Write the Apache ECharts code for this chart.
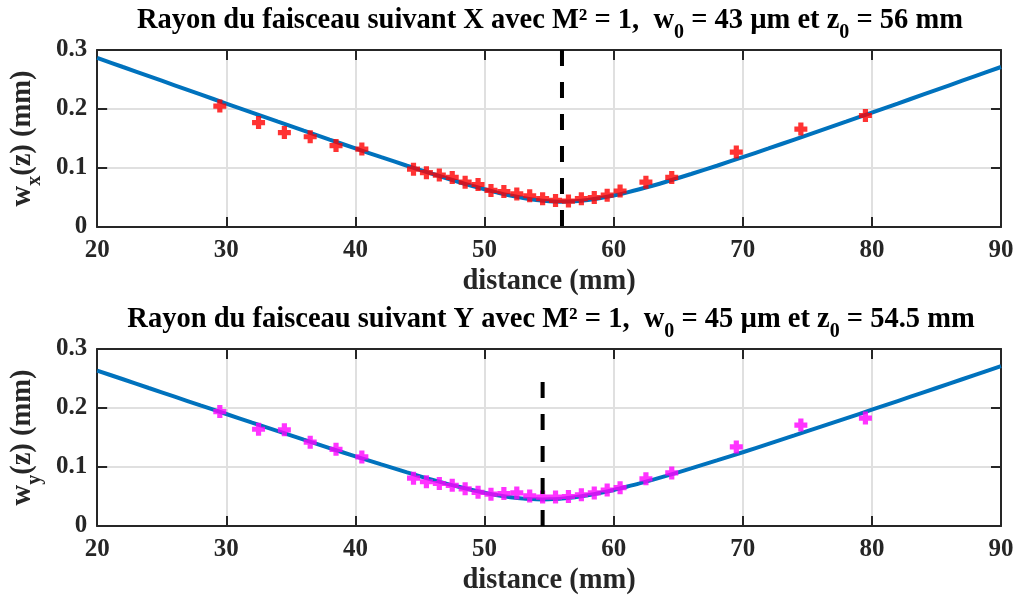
<!DOCTYPE html>
<html>
<head>
<meta charset="utf-8">
<script src="https://cdn.jsdelivr.net/npm/echarts@6/dist/echarts.min.js"></script>
<style>
html,body{margin:0;padding:0;background:#fff;}
#c{width:1019px;height:599px;}
</style>
</head>
<body>
<div id="c"></div>
<script>
// Measurement positions (mm)
var zMeas = [29.5, 32.5, 34.5, 36.5, 38.5, 40.5, 44.5, 45.5, 46.5, 47.5, 48.5, 49.5, 50.5, 51.5, 52.5, 53.5, 54.5, 55.5, 56.5, 57.5, 58.5, 59.5, 60.5, 62.5, 64.5, 69.5, 74.5, 79.5];
// Measured radii (mm)
var wxMeas = [0.205, 0.177, 0.160, 0.153, 0.138, 0.132, 0.098, 0.092, 0.088, 0.084, 0.076, 0.072, 0.062, 0.060, 0.056, 0.053, 0.048, 0.045, 0.044, 0.048, 0.050, 0.054, 0.061, 0.076, 0.084, 0.127, 0.166, 0.189];
var wyMeas = [0.194, 0.164, 0.163, 0.142, 0.130, 0.117, 0.081, 0.075, 0.072, 0.069, 0.063, 0.057, 0.054, 0.055, 0.056, 0.051, 0.049, 0.049, 0.050, 0.053, 0.056, 0.061, 0.065, 0.080, 0.090, 0.134, 0.171, 0.183];
// Fitted curves
var zFit = [20, 22, 24, 26, 28, 30, 32, 34, 36, 38, 40, 42, 44, 46, 48, 50, 51, 52, 53, 54, 54.5, 55, 56, 57, 58, 59, 60, 61, 62, 64, 66, 68, 70, 72, 74, 76, 78, 80, 82, 84, 86, 88, 90];
var wxFit = [0.2868, 0.2712, 0.2557, 0.2402, 0.2247, 0.2092, 0.1939, 0.1785, 0.1633, 0.1482, 0.1332, 0.1184, 0.1038, 0.0898, 0.0763, 0.0639, 0.0583, 0.0533, 0.0491, 0.0458, 0.0446, 0.0437, 0.0430, 0.0437, 0.0458, 0.0491, 0.0533, 0.0583, 0.0639, 0.0763, 0.0898, 0.1038, 0.1184, 0.1332, 0.1482, 0.1633, 0.1785, 0.1939, 0.2092, 0.2247, 0.2402, 0.2557, 0.2712];
var wyFit = [0.2635, 0.2487, 0.2339, 0.2192, 0.2044, 0.1898, 0.1752, 0.1607, 0.1463, 0.1321, 0.1180, 0.1043, 0.0909, 0.0782, 0.0665, 0.0563, 0.0521, 0.0488, 0.0464, 0.0452, 0.0450, 0.0452, 0.0464, 0.0488, 0.0521, 0.0563, 0.0611, 0.0665, 0.0722, 0.0845, 0.0976, 0.1111, 0.1250, 0.1392, 0.1535, 0.1680, 0.1825, 0.1971, 0.2118, 0.2265, 0.2413, 0.2561, 0.2709];
// Waist markers (dashed verticals)
var waistXz = [56, 56];
var waistXw = [0.3, 0];
var waistYz = [54.5, 54.5];
var waistYw = [0, 0.25];
// Axis ticks
var xTicks = [20, 30, 40, 50, 60, 70, 80, 90];
var yTicks = [0, 0.1, 0.2, 0.3];

function zip(a, b) { return a.map(function (v, i) { return [v, b[i]]; }); }

var FONT = 'Liberation Serif';
var AX = '#262626';
var plus = 'path://M3,0H7V3H10V7H7V10H3V7H0V3H3Z';

var richMain = {
  m: { fontFamily: FONT, fontWeight: 'bold', fontSize: 28.5, color: '#000', lineHeight: 30, verticalAlign: 'top' },
  s: { fontFamily: FONT, fontWeight: 'bold', fontSize: 20, color: '#000', lineHeight: 21, verticalAlign: 'top', padding: [17, 0, 0, 0] }
};
var richAx = {
  m: { fontFamily: FONT, fontWeight: 'bold', fontSize: 28.5, color: AX, lineHeight: 30, verticalAlign: 'top' },
  s: { fontFamily: FONT, fontWeight: 'bold', fontSize: 20, color: AX, lineHeight: 21, verticalAlign: 'top', padding: [17, 0, 0, 0] }
};

function xAx(grid, main) {
  return {
    type: 'value', gridIndex: grid, min: xTicks[0], max: xTicks[xTicks.length - 1], interval: 10,
    position: main ? 'bottom' : 'top',
    name: main ? 'distance (mm)' : '', nameLocation: 'middle', nameGap: 40,
    nameTextStyle: { fontFamily: FONT, fontWeight: 'bold', fontSize: 28.5, color: AX },
    axisLine: { show: true, onZero: false, lineStyle: { color: AX, width: 2 } },
    axisTick: { show: true, inside: true, length: 10, lineStyle: { color: AX, width: 2 } },
    axisLabel: { show: main, margin: 11, fontFamily: FONT, fontWeight: 'bold', fontSize: 25, color: AX },
    splitLine: { show: main, lineStyle: { color: '#e0e0e0', width: 2 } }
  };
}
function yAx(grid, main, sub) {
  return {
    type: 'value', gridIndex: grid, min: yTicks[0], max: yTicks[yTicks.length - 1], interval: 0.1,
    position: main ? 'left' : 'right',
    name: main ? '{m|w}{s|' + sub + '}{m|(z) (mm)}' : '', nameLocation: 'middle', nameGap: 49,
    nameTextStyle: { rich: richAx },
    axisLine: { show: true, onZero: false, lineStyle: { color: AX, width: 2 } },
    axisTick: { show: true, inside: true, length: 10, lineStyle: { color: AX, width: 2 } },
    axisLabel: { show: main, margin: 10, fontFamily: FONT, fontWeight: 'bold', fontSize: 25, color: AX,
      formatter: function (v) { return String(Math.round(v * 10) / 10); } },
    splitLine: { show: main, lineStyle: { color: '#e0e0e0', width: 2 } }
  };
}

var chart = echarts.init(document.getElementById('c'), null, { renderer: 'canvas' });
chart.setOption({
  animation: false,
  backgroundColor: '#fff',
  title: [
    { text: '{m|Rayon du faisceau suivant X avec M² = 1,  w}{s|0}{m| = 43 µm et z}{s|0}{m| = 56 mm}',
      left: 545, top: 1, textAlign: 'center', textStyle: { rich: richMain } },
    { text: '{m|Rayon du faisceau suivant Y avec M² = 1,  w}{s|0}{m| = 45 µm et z}{s|0}{m| = 54.5 mm}',
      left: 546, top: 300, textAlign: 'center', textStyle: { rich: richMain } }
  ],
  grid: [
    { left: 92, right: 18, top: 50, height: 177 },
    { left: 92, right: 18, top: 349, height: 177 }
  ],
  xAxis: [xAx(0, true), xAx(1, true), xAx(0, false), xAx(1, false)],
  yAxis: [yAx(0, true, 'x'), yAx(1, true, 'y'), yAx(0, false), yAx(1, false)],
  series: [
    { type: 'line', xAxisIndex: 0, yAxisIndex: 0, data: zip(zFit, wxFit), showSymbol: false, smooth: 0.3,
      lineStyle: { color: '#0072BD', width: 4 }, z: 2 },
    { type: 'scatter', xAxisIndex: 0, yAxisIndex: 0, data: zip(zMeas, wxMeas), symbol: plus, symbolSize: 13,
      itemStyle: { color: '#ff0000' }, z: 3 },
    { type: 'line', xAxisIndex: 0, yAxisIndex: 0, data: zip(waistXz, waistXw), showSymbol: false,
      lineStyle: { color: '#000', width: 4, type: [16, 16] }, z: 4 },
    { type: 'line', xAxisIndex: 1, yAxisIndex: 1, data: zip(zFit, wyFit), showSymbol: false, smooth: 0.3,
      lineStyle: { color: '#0072BD', width: 4 }, z: 2 },
    { type: 'scatter', xAxisIndex: 1, yAxisIndex: 1, data: zip(zMeas, wyMeas), symbol: plus, symbolSize: 13,
      itemStyle: { color: '#ff00ff' }, z: 3 },
    { type: 'line', xAxisIndex: 1, yAxisIndex: 1, data: zip(waistYz, waistYw), showSymbol: false,
      lineStyle: { color: '#000', width: 4, type: [16, 16] }, z: 4 }
  ]
});
</script>
</body>
</html>
